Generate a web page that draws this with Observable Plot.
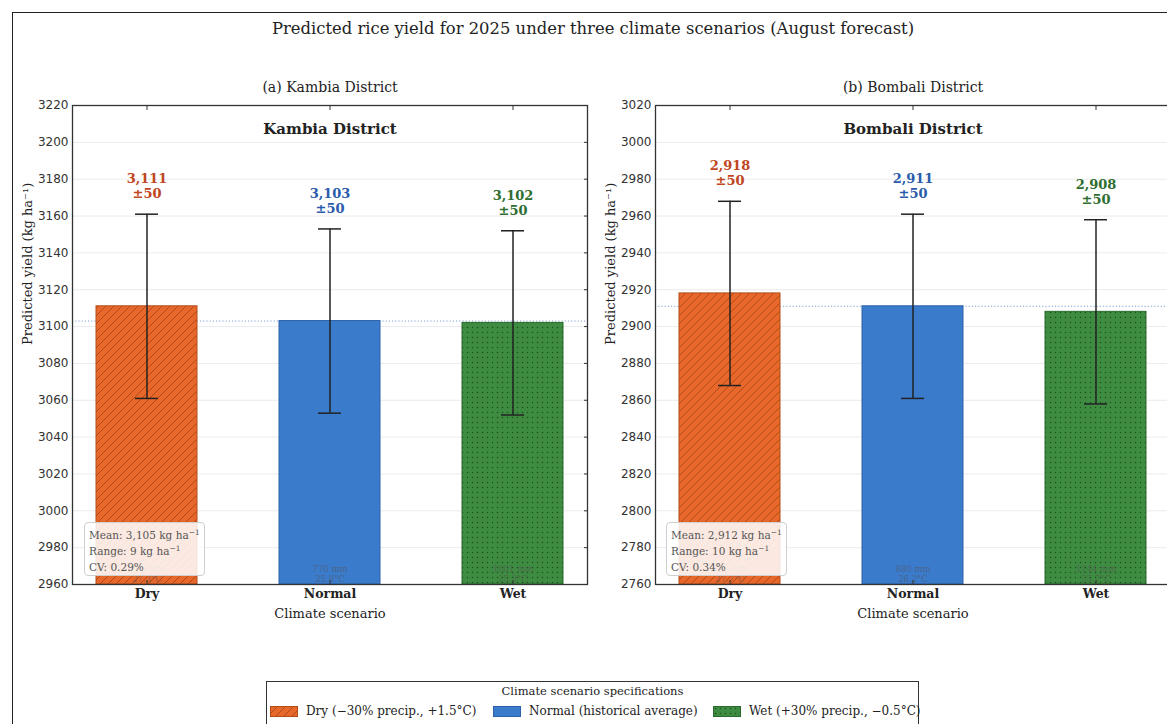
<!DOCTYPE html>
<html>
<head>
<meta charset="utf-8">
<script src="https://cdn.jsdelivr.net/npm/d3@7"></script>
<script src="https://cdn.jsdelivr.net/npm/@observablehq/plot@0.6"></script>
<style>
  html, body { margin: 0; padding: 0; background: #fff; }
  #fig { position: relative; width: 1167px; height: 724px; overflow: hidden; font-family: "DejaVu Serif", serif; color: #222; }
  #border { position: absolute; left: 12px; top: 12px; width: 1180px; height: 740px; border: 1.5px solid #222; box-sizing: border-box; }
  #title { position: absolute; left: 0; width: 1186px; top: 19px; text-align: center; font-size: 16.4px; }
  .panel { position: absolute; top: 60px; width: 597px; height: 574px; }
  .panel svg { max-width: none !important; }
  .stats { position: absolute; width: 121px; height: 54px; box-sizing: border-box; background: rgba(255,255,255,0.86); border: 1px solid #cfcfcf; border-radius: 4px; font-size: 10.5px; color: #555; padding: 5px 0 0 4px; line-height: 15.8px; }
  .stats sup { font-size: 7.5px; vertical-align: 4px; line-height: 0; }
  #legend { position: absolute; left: 266px; top: 681px; width: 653px; height: 60px; border: 1px solid #333; box-sizing: border-box; background: #fff; }
  #legend .lt { text-align: center; font-size: 11.5px; margin-top: 2px; color: #222; }
  #legend .items { position: relative; height: 20px; }
  #legend .item { position: absolute; top: 6px; display: flex; align-items: center; font-size: 12px; white-space: nowrap; }
  #legend .item svg { margin-right: 8px; }
</style>
</head>
<body>
<svg width="0" height="0" style="position:absolute">
  <defs>
    <pattern id="hatchDry" patternUnits="userSpaceOnUse" width="8" height="8">
      <rect width="8" height="8" fill="#e8672a"></rect>
      <path d="M0,8 L8,0 M-2,2 L2,-2 M6,10 L10,6" stroke="#a9461a" stroke-width="0.9"></path>
    </pattern>
    <pattern id="dotsWet" patternUnits="userSpaceOnUse" width="5" height="5">
      <rect width="5" height="5" fill="#3e8c41"></rect>
      <circle cx="2.5" cy="2.5" r="0.75" fill="#1c4f1e"></circle>
    </pattern>
  </defs>
</svg>
<div id="fig">
  <div id="border"></div>
  <div id="title">Predicted rice yield for 2025 under three climate scenarios (August forecast)</div>
</div>
<script>
// ---------------- data ----------------
const scenarios = ["Dry", "Normal", "Wet"];
const kambiaYield = [3111, 3103, 3102];
const bombaliYield = [2918, 2911, 2908];
const yieldError = [50, 50, 50];
const kambiaDomain = [2960, 3220];
const bombaliDomain = [2760, 3020];
const tickStep = 20;
const kambiaClimate = ["539 mm\n27.3°C", "770 mm\n25.8°C", "1001 mm\n25.3°C"];
const bombaliClimate = ["616 mm\n27.7°C", "880 mm\n26.2°C", "1144 mm\n25.7°C"];
const kambiaStats = ["Mean: 3,105 kg ha<sup>−1</sup>", "Range: 9 kg ha<sup>−1</sup>", "CV: 0.29%"];
const bombaliStats = ["Mean: 2,912 kg ha<sup>−1</sup>", "Range: 10 kg ha<sup>−1</sup>", "CV: 0.34%"];
const panelSubtitles = ["(a) Kambia District", "(b) Bombali District"];
const panelTitles = ["Kambia District", "Bombali District"];
const legendTitle = "Climate scenario specifications";
const legendLabels = ["Dry (−30% precip., +1.5°C)", "Normal (historical average)", "Wet (+30% precip., −0.5°C)"];
const yLabel = "Predicted yield (kg ha⁻¹)";
const xLabel = "Climate scenario";

// ---------------- styles ----------------
const fillFor = {Dry: "url(#hatchDry)", Normal: "#3a7bcc", Wet: "url(#dotsWet)"};
const edgeFor = {Dry: "#b24c17", Normal: "#2c62a8", Wet: "#2b6a2d"};
const labelFor = {Dry: "#c0461e", Normal: "#2a5cab", Wet: "#2e6e30"};

function panel(values, errors, climate, domain, subtitle, title) {
  const data = scenarios.map((s, i) => ({scenario: s, value: values[i], err: errors[i], climate: climate[i]}));
  const ticks = d3.range(domain[0], domain[1] + 1, tickStep);
  const baseline = values[scenarios.indexOf("Normal")];
  return Plot.plot({
    width: 597, height: 574,
    marginLeft: 72, marginRight: 10, marginTop: 45, marginBottom: 50,
    style: {fontFamily: "DejaVu Serif", fontSize: "12px", color: "#222", background: "transparent", overflow: "visible", maxWidth: "none"},
    x: {domain: scenarios, paddingInner: 0.45, paddingOuter: 0.128, axis: null},
    y: {domain, axis: null},
    color: {type: "identity"},
    marks: [
      Plot.gridY(ticks, {stroke: "#e6e6e6", strokeOpacity: 1, strokeWidth: 0.8}),
      Plot.ruleY([baseline], {stroke: "#7f9fd0", strokeDasharray: "1.2 2", strokeWidth: 1}),
      Plot.barY(data, {x: "scenario", y1: domain[0], y2: "value", fill: d => fillFor[d.scenario], stroke: d => edgeFor[d.scenario], strokeWidth: 1}),
      Plot.text(data, {x: "scenario", y: domain[0], text: "climate", lineAnchor: "bottom", dy: -3, fontSize: 8.5, fill: "#555", fillOpacity: 0.6, lineHeight: 1.15}),
      Plot.ruleX(data, {x: "scenario", y1: d => d.value - d.err, y2: d => d.value + d.err, stroke: "#222", strokeWidth: 1.5}),
      Plot.tickY(data, {x: "scenario", y: d => d.value + d.err, stroke: "#222", strokeWidth: 1.5, insetLeft: 39, insetRight: 39}),
      Plot.tickY(data, {x: "scenario", y: d => d.value - d.err, stroke: "#222", strokeWidth: 1.5, insetLeft: 39, insetRight: 39}),
      Plot.text(data, {x: "scenario", y: d => d.value + d.err, text: d => d3.format(",")(d.value) + "\n±" + d.err, lineAnchor: "bottom", dy: -16, fontSize: 13, fontWeight: "bold", fill: d => labelFor[d.scenario], lineHeight: 1.15}),
      Plot.frame({stroke: "#333", strokeWidth: 1.3}),
      Plot.axisY(ticks, {anchor: "left", tickSize: 0, tickPadding: 4, tickFormat: "d", fontFamily: "DejaVu Sans", fontSize: 12, fill: "#333", label: null}),
      Plot.axisY(ticks, {anchor: "right", tickSize: -4, tickFormat: () => "", label: null, stroke: "#333"}),
      Plot.axisX(scenarios, {anchor: "top", tickSize: -4, tickFormat: () => "", label: null, stroke: "#333"}),
      Plot.axisX(scenarios, {anchor: "bottom", tickSize: -4, tickFormat: () => "", label: null, stroke: "#333"}),
      Plot.axisX(scenarios, {anchor: "bottom", tickSize: 0, tickPadding: 5, fontSize: 12.5, fontWeight: "bold", fill: "#222", label: null}),
      Plot.text([xLabel], {frameAnchor: "bottom", lineAnchor: "middle", dy: 29, fontSize: 13, fill: "#222"}),
      Plot.text([yLabel], {frameAnchor: "left", dx: -45, rotate: -90, fontSize: 13, fill: "#222"}),
      Plot.text([subtitle], {frameAnchor: "top", lineAnchor: "middle", dy: -18, fontSize: 14, fill: "#222"}),
      Plot.text([title], {frameAnchor: "top", lineAnchor: "middle", dy: 24, fontSize: 15, fontWeight: "bold", fill: "#222"})
    ]
  });
}

const fig = document.getElementById("fig");
function addPanel(left, chart) {
  const wrap = document.createElement("div");
  wrap.className = "panel";
  wrap.style.left = left + "px";
  wrap.appendChild(chart);
  fig.appendChild(wrap);
}
addPanel(0, panel(kambiaYield, yieldError, kambiaClimate, kambiaDomain, panelSubtitles[0], panelTitles[0]));
addPanel(583, panel(bombaliYield, yieldError, bombaliClimate, bombaliDomain, panelSubtitles[1], panelTitles[1]));

function addStats(left, lines) {
  const box = document.createElement("div");
  box.className = "stats";
  box.style.left = left + "px";
  box.style.top = "522px";
  box.innerHTML = lines.join("<br>");
  fig.appendChild(box);
}
addStats(84, kambiaStats);
addStats(666, bombaliStats);

// legend
const legend = document.createElement("div");
legend.id = "legend";
const lt = document.createElement("div");
lt.className = "lt";
lt.textContent = legendTitle;
legend.appendChild(lt);
const items = document.createElement("div");
items.className = "items";
const itemLeft = [3, 226, 446];
scenarios.forEach((s, i) => {
  const it = document.createElement("div");
  it.className = "item";
  it.style.left = itemLeft[i] + "px";
  it.innerHTML = `<svg width="28" height="11"><rect x="0.5" y="0.5" width="27" height="10" fill="${fillFor[s]}" stroke="${edgeFor[s]}" stroke-width="1"></rect></svg><span>${legendLabels[i]}</span>`;
  items.appendChild(it);
});
legend.appendChild(items);
fig.appendChild(legend);
</script>
</body>
</html>
